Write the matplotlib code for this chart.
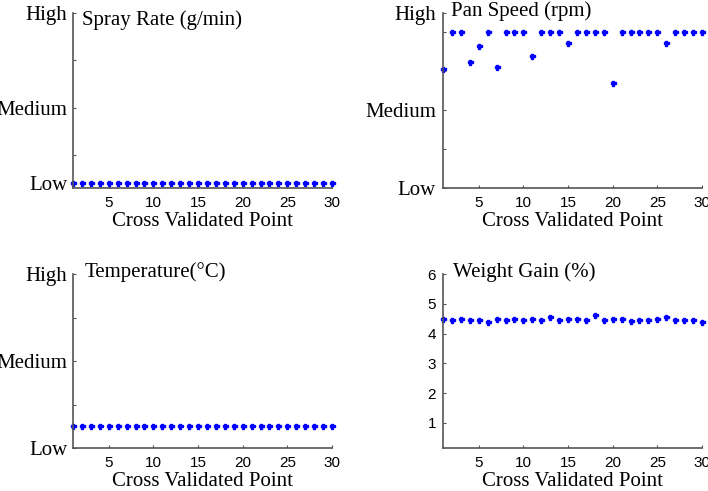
import matplotlib
matplotlib.use('Agg')
import matplotlib.pyplot as plt
import numpy as np

# cross validated points
points = np.arange(1, 31)

# level values on each panel's own tick scale
spray_rate = [0.4] * 30
temperature = [0.5] * 30
pan_speed = [3.05, 4, 4, 3.24, 3.66, 4, 3.10, 4, 4, 4,
             3.40, 4, 4, 4, 3.72, 4, 4, 4, 4, 2.71,
             4, 4, 4, 4, 4, 3.74, 4, 4, 4, 4]
weight_gain = [4.50, 4.44, 4.50, 4.45, 4.45, 4.39, 4.50, 4.46, 4.50, 4.45,
               4.50, 4.45, 4.55, 4.45, 4.50, 4.50, 4.45, 4.61, 4.45, 4.50,
               4.50, 4.42, 4.45, 4.45, 4.50, 4.55, 4.45, 4.45, 4.45, 4.39]

level_labels = ['Low', '', 'Medium', '', 'High']
xticks = [5, 10, 15, 20, 25, 30]

serif = ['Liberation Serif', 'DejaVu Serif']
sans = ['Liberation Sans', 'DejaVu Sans']

fig = plt.figure(figsize=(7.08, 4.91), dpi=100)
W, H = 708, 491

def make_ax(left, top, right, bottom):
    return fig.add_axes([left / W, 1 - bottom / H, (right - left) / W, (bottom - top) / H])

ax_spray = make_ax(73, 13, 332, 188)
ax_pan = make_ax(443, 13, 702, 188)
ax_temp = make_ax(73, 274, 332, 448)
ax_wg = make_ax(443, 274, 702, 448)

def style(ax, title, tx, ty):
    ax.set_xlim(1, 30)
    ax.set_xticks(xticks)
    ax.set_xticklabels([str(t) for t in xticks], family=sans, fontsize=11)
    ax.spines['top'].set_visible(False)
    ax.spines['right'].set_visible(False)
    for s in ('left', 'bottom'):
        ax.spines[s].set_color('#555555')
        ax.spines[s].set_linewidth(1.2)
    ax.tick_params(direction='in', length=2.5, width=0.8, color='#555555')
    ax.tick_params(axis='x', pad=6)
    ax.set_xlabel('Cross Validated Point', family=serif, fontsize=15, labelpad=1)
    ax.text(tx, ty, title, transform=ax.transAxes, family=serif, fontsize=15,
            ha='left', va='baseline')

mk = dict(linestyle='none', marker='P', markersize=3.6, color='#0000ff')

# spray rate
ax_spray.plot(points, spray_rate, **mk, clip_on=False)
ax_spray.set_ylim(0.3, 4)
ax_spray.set_yticks([0.4, 1, 2, 3, 4])
ax_spray.set_yticklabels(level_labels, family=serif, fontsize=15)
ax_spray.tick_params(axis='y', pad=4)
style(ax_spray, 'Spray Rate (g/min)', 0.035, 0.93)

# pan speed
ax_pan.plot(points, pan_speed, **mk, clip_on=False)
ax_pan.set_ylim(0, 4.5)
ax_pan.set_yticks([0, 1, 2, 3, 4, 4.5])
ax_pan.set_yticklabels(['Low', '', 'Medium', '', '', 'High'], family=serif, fontsize=15)
ax_pan.tick_params(axis='y', pad=5)
style(ax_pan, 'Pan Speed (rpm)', 0.03, 0.983)

# temperature
ax_temp.plot(points, temperature, **mk, clip_on=False)
ax_temp.set_ylim(0, 4)
ax_temp.set_yticks([0, 1, 2, 3, 4])
ax_temp.set_yticklabels(level_labels, family=serif, fontsize=15)
ax_temp.tick_params(axis='y', pad=4)
style(ax_temp, 'Temperature(\u00b0C)', 0.045, 0.983)

# weight gain
ax_wg.plot(points, weight_gain, **mk, clip_on=False)
ax_wg.set_ylim(0.16, 6)
ax_wg.set_yticks([1, 2, 3, 4, 5, 6])
ax_wg.set_yticklabels(['1', '2', '3', '4', '5', '6'], family=sans, fontsize=11)
ax_wg.tick_params(axis='y', pad=5)
style(ax_wg, 'Weight Gain (%)', 0.04, 0.98)

fig.savefig('out.png', dpi=100)
